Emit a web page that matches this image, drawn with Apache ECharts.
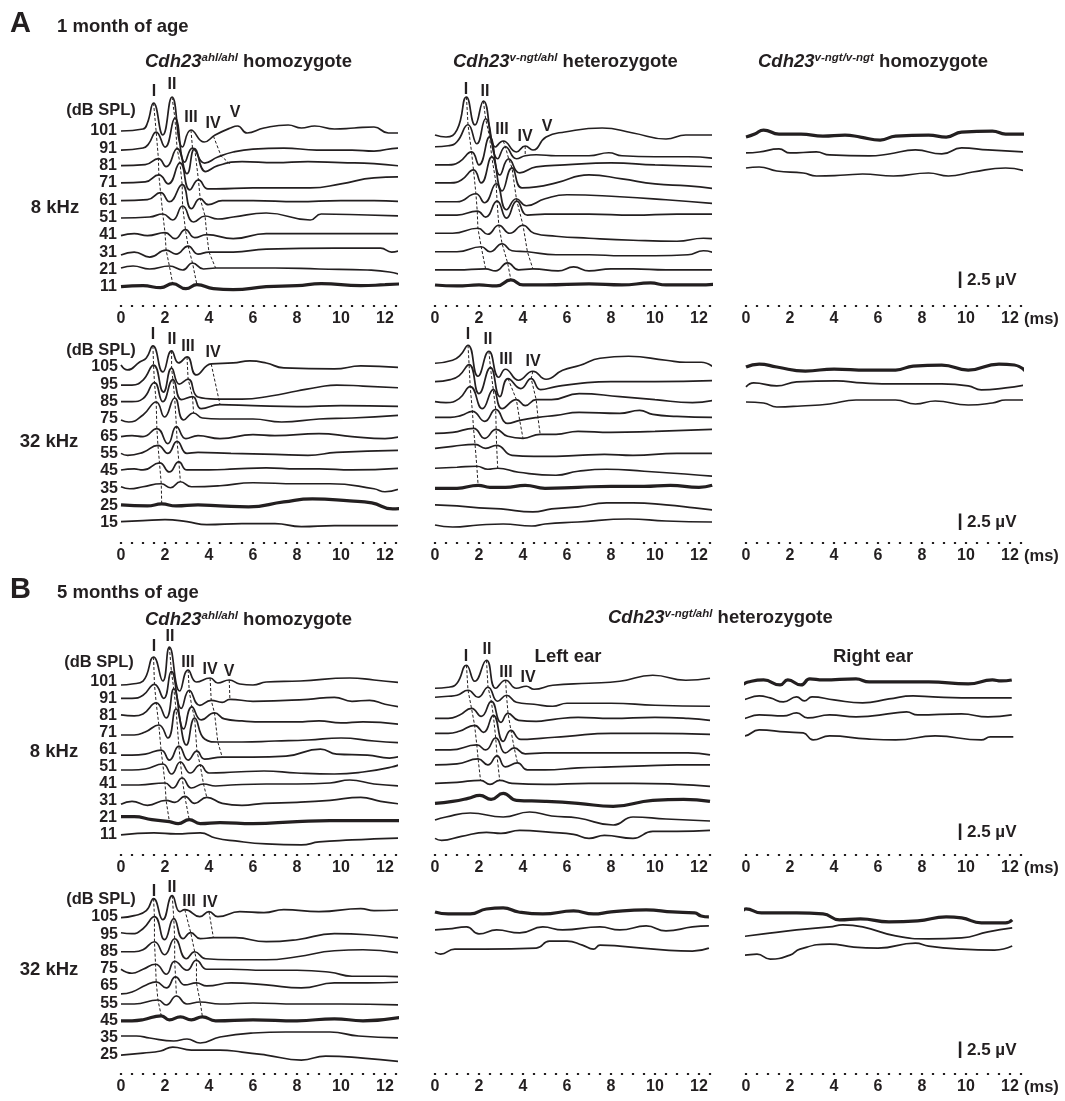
<!DOCTYPE html>
<html>
<head>
<meta charset="utf-8">
<script src="https://cdn.jsdelivr.net/npm/echarts@6/dist/echarts.min.js"></script>
<style>
  html, body { margin: 0; background: #fff; }
  #chart { width: 1065px; height: 1101px; }
</style>
</head>
<body>
<div id="chart"></div>
<script>
// stimulus levels (dB SPL) and time axis labels (ms)
const db8 = [101, 91, 81, 71, 61, 51, 41, 31, 21, 11]
const db32 = [105, 95, 85, 75, 65, 55, 45, 35, 25, 15]
const db32old = [105, 95, 85, 75, 65, 55, 45, 35, 25]
const tickLabels = [0, 2, 4, 6, 8, 10, 12]
const scaleUv = 2.5
const unitsPerUv = 6.6 // amplitude units below are ~0.15 uV

// ABR traces: flat lists of [time ms, amplitude] pairs, top level first
const a1Hom = [
  [0,0, 1,2, 1.2,8, 1.48,28, 1.9,-4, 2.32,34, 2.8,-16, 3.18,1, 3.78,-11, 4.28,-4, 4.97,3, 5.3,5, 5.73,-2, 6.5,3, 7.6,6, 8.2,3, 8.8,5, 9.7,2, 10.6,3, 11.5,4, 12.15,-2, 12.9,-2],
  [0,0, 1,2, 1.25,6, 1.6,18, 2.0,3, 2.45,32, 2.9,-12, 3.25,2, 3.8,-13, 4.4,-7, 5.1,-2, 6,1, 7.4,2, 8.9,0, 10.5,0, 11.5,-1, 12.6,2, 12.9,0],
  [0,0, 1.1,1, 1.7,7, 2.05,-1, 2.55,17, 3.0,-8, 3.35,17, 3.85,-6, 4.4,0, 5.5,4, 7,3, 8.5,4, 10,3, 11.5,2, 12.9,-1],
  [0,0, 1.1,1, 1.72,8, 2.15,-1, 2.68,20, 3.13,-7, 3.52,3, 3.95,-6, 4.3,-6, 6,-5, 8.6,-5, 10,-1, 11.5,5, 12.9,6],
  [0,0, 1.2,1, 1.8,8, 2.2,-1, 2.78,16, 3.2,-8, 3.6,2, 3.97,-4, 4.6,0, 6,0, 8,-1, 10,0, 11.5,0, 12.9,-1],
  [0,0, 1.3,1, 1.9,4, 2.35,-2, 2.8,12, 3.3,-4, 3.82,2, 4.4,-1, 5.1,1, 6.6,5, 8.6,-2, 9.1,4, 11.2,3, 12.9,2],
  [0,0, 0.6,2, 1.2,0, 2.0,3, 2.45,-3, 2.93,6, 3.35,-2, 3.9,1, 5.1,-3, 6.6,2, 9.7,2, 11.5,2, 12.9,2],
  [0,0, 0.6,3, 1.3,-2, 2.05,5, 2.5,1, 3.05,9, 3.5,1, 4.0,3, 5.1,3, 6.6,6, 9.7,7, 11.8,7, 12.3,3, 12.9,7],
  [0,0, 0.55,2, 1.3,-1, 2.2,2, 2.8,-2, 3.25,5, 3.75,-1, 4.3,0, 5,0, 7,0, 9,-1, 11.2,-2, 12.2,-4, 12.9,-8],
  [0,0, 1,1, 1.8,-1, 2.35,3, 2.95,-2, 3.45,2, 4.2,-2, 5.1,-3, 6.6,0, 8,1, 9.1,3, 10.9,1, 12,2, 12.9,3]
]
const a1Het = [
  [0,0, 0.5,-2, 1.0,5, 1.43,38, 1.82,10, 2.2,34, 2.75,-12, 3.1,-6, 3.7,-17, 4.1,-11, 4.45,-15, 5.05,-2, 5.9,3, 7.6,7, 9.0,2, 10.5,-4, 11.4,0, 12.8,0],
  [0,0, 0.6,1, 1.0,5, 1.5,22, 1.9,3, 2.3,28, 2.85,-12, 3.2,0, 3.7,-12, 4.1,-9, 4.6,-8, 5.5,-9, 7.0,-9, 7.9,-6, 8.5,-9, 10,-10, 11.5,-10, 12.8,-12],
  [0,0, 0.6,0, 1.1,3, 1.66,13, 2.0,0, 2.48,28, 2.95,-10, 3.35,6, 3.85,-8, 4.6,-2, 5.9,0, 8,2, 10,0, 12.8,-2],
  [0,0, 0.7,0, 1.2,3, 1.75,13, 2.1,0, 2.58,26, 3.05,-8, 3.5,15, 3.95,-5, 4.6,-4, 5.5,0, 7,8, 8.5,4, 10,-1, 11.5,-3, 12.8,-6],
  [0,0, 1.0,0, 1.86,8, 2.25,-1, 2.78,18, 3.25,-8, 3.7,3, 4.15,-4, 5,3, 6,7, 8.4,5, 10.5,2, 12.8,-2],
  [0,0, 1.0,0, 1.92,4, 2.3,-2, 2.82,14, 3.25,-3, 3.72,14, 4.2,0, 5,1, 7,1, 9,0, 11,1, 12.8,1],
  [0,0, 0.8,0, 1.95,5, 2.4,-1, 2.9,8, 3.4,0, 4.0,8, 4.5,0, 5.5,-3, 7,-5, 9,-7, 11,-8, 12.2,-5, 12.8,-6],
  [0,0, 1,0, 2.1,5, 2.5,0, 3.05,8, 3.5,1, 4.2,0, 5.5,-3, 7,-3, 8.5,-4, 10,-4, 11.5,-3, 12.2,1, 12.8,-2],
  [0,0, 1,0, 2.3,1, 2.75,-1, 3.3,7, 3.8,0, 4.45,1, 5.6,-1, 6.3,3, 7,-1, 8,1, 9,1, 10.5,0, 12.8,0],
  [0,0, 1,-1, 2,0, 2.8,-1, 3.45,5, 4,0, 5,0, 7,1, 8.5,0, 9.8,2, 10.5,0, 12,0, 12.8,1]
]
const a1Mut = [
  [0,0, 0.4,3, 0.8,7, 1.5,3, 2.5,3, 3.5,1, 4.5,2, 5.2,0, 6.1,-3, 6.8,1, 8.3,2, 9.1,0, 9.8,5, 11.2,6, 11.8,3, 12.7,3],
  [0,0, 0.6,1, 1.5,4, 2.0,0, 3.2,1, 3.8,-2, 5.6,-3, 6.5,-1, 7.7,3, 8.9,-1, 9.8,5, 11,3, 12.7,1],
  [0,0, 0.6,1, 1.4,-3, 2.6,-5, 3.2,-8, 4.5,-7, 5.3,-6, 6.7,-8, 8.3,-5, 9.2,-8, 10.3,-4, 11.8,0, 12.7,-3]
]
const a2Hom = [
  [0,0, 0.3,-5, 0.85,3, 1.15,7, 1.45,19, 1.9,-7, 2.3,14, 2.62,2, 3.0,8, 3.43,-10, 4.1,1, 5.1,2, 5.85,4, 6.6,2, 7.4,-3, 9.7,-4, 10.9,-1, 12.85,-3],
  [0,0, 0.5,0, 1.0,5, 1.48,20, 1.93,-7, 2.3,17, 2.65,1, 3.05,6, 3.5,-12, 4.3,-14, 5.5,-14, 6.8,-11, 8,-6, 9,-2, 9.8,0, 11,-1, 12.85,-3],
  [0,0, 0.5,0, 1.0,3, 1.52,19, 1.9,0, 2.36,22, 2.75,2, 3.25,5, 3.65,-7, 4.5,-3, 6,-4, 8,-5, 10,-4, 12.85,-5],
  [0,0, 0.35,-2, 1.0,5, 1.6,18, 1.98,3, 2.44,22, 2.85,0, 3.3,7, 3.7,2, 4.5,1, 6,1, 7.3,-2, 9,1, 10.5,2, 12.85,5],
  [0,0, 0.5,1, 1.0,0, 1.63,8, 2.13,-7, 2.52,10, 2.95,-2, 3.5,1, 4.5,-2, 6,2, 7,1, 9,3, 10.5,0, 12,-2, 12.85,1],
  [0,0, 0.3,-2, 1.0,1, 1.68,8, 2.13,0, 2.55,12, 3.0,0, 3.5,1, 5,0, 7,-1, 8.5,-2, 9.8,1, 12.85,3],
  [0,0, 0.6,1, 1.0,0, 1.75,7, 2.2,-2, 2.63,8, 3.0,0, 4,0, 5.2,1, 6.6,2, 8,1, 9,1, 10.5,0, 12.85,2],
  [0,0, 0.4,-2, 1.0,0, 1.83,3, 2.25,-1, 2.7,5, 3.2,0, 4.5,1, 6,4, 8,3, 9.5,3, 11.5,-2, 12,-5, 12.85,0],
  [0,0, 1.2,-1, 1.85,1, 2.5,-1, 3.5,0, 4.5,-1, 5.8,-2, 7.4,3, 8.7,6, 10.4,4, 11.4,2, 12.35,-4, 12.85,-3],
  [0,0, 1.0,1, 2.0,2, 3.0,0, 3.9,-3, 5.5,-2, 7,-2, 8.2,-5, 9.7,-4, 11,-4, 12.4,-4, 12.85,-3]
]
const a2Het = [
  [0,0, 0.8,3, 1.15,8, 1.5,18, 1.95,-13, 2.45,12, 2.9,-14, 3.2,-6, 3.8,-17, 4.45,-8, 5.05,-16, 5.8,-7, 6.6,-2, 7.5,5, 8.8,7, 10.5,3, 11.4,1, 12.1,1, 12.6,-3],
  [0,0, 0.7,2, 1.1,6, 1.55,17, 2.0,-12, 2.52,14, 2.95,-15, 3.32,3, 3.9,-7, 4.37,3, 4.8,-8, 5.5,-5, 6.5,-2, 8,0, 10,0, 12.6,1],
  [0,0, 0.5,-1, 1.1,3, 1.6,15, 2.15,-7, 2.65,12, 3.05,-7, 3.7,2, 4.1,-4, 4.6,2, 5.3,2, 6.55,8, 8.4,5, 10,2, 11.7,-1, 12.6,1],
  [0,0, 0.7,0, 1.2,2, 1.7,6, 2.26,-4, 2.76,8, 3.3,-6, 3.85,-3, 4.68,0, 5.5,2, 6.55,5, 8.4,4, 9.3,7, 9.9,3, 11,1, 12.6,0],
  [0,0, 0.8,1, 1.75,5, 2.26,-5, 2.78,4, 3.3,-3, 4.0,-5, 4.78,-1, 5.5,-1, 6.5,2, 8,1, 10,2, 12.6,4],
  [0,0, 0.8,2, 1.82,4, 2.3,0, 2.8,3, 3.5,-7, 4.5,-8, 5.5,-8, 6.5,-7, 7.7,-6, 9,-7, 11,-5, 12.6,-5],
  [0,0, 1,1, 1.9,2, 2.4,-1, 2.85,0, 3.8,-4, 5.5,-7, 6.5,-3, 7.8,-1, 9.5,-3, 11.5,-6, 12.6,-8],
  [0,0, 1,0, 1.96,3, 2.5,1, 3.2,1, 4.1,3, 5,0, 6.5,1, 8,2, 9.5,2, 10.7,3, 12,1, 12.6,3],
  [0,0, 1,-1, 2,-3, 3,-4, 4.45,-7, 5.3,-4, 6.5,-2, 7.8,2, 9,2, 10.5,0, 11.8,-3, 12.6,-5],
  [0,0, 0.8,-2, 2,0, 3.1,1, 4.4,-1, 5,1, 6.5,3, 8.8,6, 10.5,4, 12.6,3]
]
const a2Mut = [
  [0,0, 0.6,3, 1.4,0, 2.7,-4, 4,-2, 5.5,-3, 6.8,-3, 7.6,1, 8.9,2, 10.1,-3, 11.5,3, 12.2,2, 12.7,-4],
  [0,0, 0.35,4, 1.4,1, 2.3,5, 4.1,6, 5.3,4, 6.8,3, 8.9,3, 10.1,1, 10.7,-3, 11.8,-1, 12.7,2],
  [0,0, 0.8,-1, 1.4,-5, 2.5,-4, 3.8,-2, 5,2, 6.8,2, 7.7,-2, 8.6,1, 10.1,-3, 11.2,-1, 11.8,2, 12.7,2]
]
const b1Hom = [
  [0,0, 0.5,1, 1.0,4, 1.48,28, 1.9,4, 2.2,38, 2.67,-6, 3.05,15, 3.43,3, 4.05,7, 4.4,2, 4.92,5, 5.4,1, 6.0,0, 6.6,3, 8.15,4, 10.4,7, 11.5,5, 12.85,2],
  [0,0, 0.5,0, 1.0,3, 1.52,14, 1.94,0, 2.29,27, 2.74,-10, 3.1,8, 3.58,-7, 4.1,-2, 4.6,-4, 4.95,-1, 6.0,-3, 7.5,-2, 8.5,-1, 9.7,1, 10.5,-3, 11.3,-2, 12.0,-6, 12.85,-9],
  [0,0, 0.6,-1, 1.0,1, 1.6,12, 2.05,-3, 2.4,26, 2.85,-14, 3.22,8, 3.65,-5, 4.25,2, 4.7,-4, 5.5,-6, 6.5,-7, 8,-7, 9,-6, 10,-8, 11,-7, 12.85,-10],
  [0,0, 0.6,0, 1.1,3, 1.72,10, 2.13,-3, 2.5,26, 2.97,-10, 3.35,17, 3.8,-4, 4.4,-7, 5.5,-7, 7,-6, 8.5,-5, 10,-3, 11.5,-6, 12.85,-8],
  [0,0, 0.5,0, 1.1,1, 1.82,5, 2.2,-5, 2.63,9, 3.05,-5, 3.45,4, 3.8,-4, 4.6,-2, 6,-2, 7.5,-1, 9.07,6, 9.8,1, 11.2,0, 12.2,-3, 12.85,0],
  [0,0, 0.5,0, 1.1,1, 1.9,6, 2.3,-4, 2.7,8, 3.15,-3, 3.6,5, 4,-3, 5.2,-2, 6.5,-1, 8,-3, 9.7,-4, 11,-2, 12.3,3, 12.85,7],
  [0,0, 0.8,0, 2.0,2, 2.35,-3, 2.78,7, 3.2,-3, 3.75,1, 4.3,-1, 5,0, 6.6,1, 8,1, 9.5,2, 10.4,5, 11.5,1, 12.85,-1],
  [0,0, 0.5,3, 1.2,-1, 2.05,4, 2.45,2, 2.9,8, 3.35,1, 3.9,7, 4.6,1, 5.5,-1, 6.5,1, 8,2, 9.5,4, 10.9,7, 11.8,3, 12.85,0],
  [0,0, 0.6,0, 1.4,-3, 2.2,-5, 2.6,-7, 3.1,-3, 3.6,-7, 4.5,-6, 6,-7, 8,-5, 9.5,-4, 11,-4, 12.85,-4],
  [0,0, 1.5,2, 2.5,1, 3.6,2, 4.3,-3, 5.2,-6, 6.6,-9, 8.2,-10, 9.0,-7, 10.5,-5, 11.5,-4, 12.85,-3]
]
const b1Left = [
  [0,0, 0.6,1, 1.0,5, 1.43,23, 1.81,7, 2.34,28, 2.76,0, 3.21,8, 3.7,0, 4.15,2, 4.5,-1, 5.35,3, 7,5, 8.4,7, 9.9,13, 11.4,8, 12.5,10],
  [0,0, 0.6,1, 1.0,2, 1.5,7, 1.96,0, 2.41,10, 2.85,-4, 3.25,2, 3.7,-5, 4.5,-7, 5.35,-9, 6,-6, 8,-6, 10,-8, 12.5,-9],
  [0,0, 0.6,0, 1.1,3, 1.66,10, 2.1,2, 2.56,17, 3.0,-4, 3.32,5, 3.8,-2, 4.6,-3, 5.4,-1, 6.5,1, 8,0, 10,1, 11.5,0, 12.5,-2],
  [0,0, 0.6,0, 1.1,2, 1.8,8, 2.2,1, 2.65,18, 3.1,-8, 3.45,3, 3.9,-6, 4.8,-5, 6,-3, 8,0, 10,0, 12.5,-1],
  [0,0, 0.7,0, 1.9,5, 2.3,0, 2.76,12, 3.2,-3, 3.6,2, 4.1,-4, 5,-3, 6.5,-3, 8,-3, 10,-3, 11.5,-3, 12.5,-5],
  [0,0, 1,1, 1.96,6, 2.4,0, 2.82,9, 3.2,-2, 3.75,2, 4.2,-5, 5,-5, 6.5,-3, 8,-2, 9.5,-1, 11,0, 12.5,0],
  [0,0, 1,1, 2.07,3, 2.5,-1, 2.94,3, 3.5,0, 5,-1, 7,0, 9,0, 11,-1, 12.5,-3],
  [0,0, 0.8,2, 1.5,5, 2.04,8, 2.55,4, 3.1,10, 3.7,3, 5,2, 6.5,0, 8.1,-3, 9.9,3, 11.3,4, 12.5,2],
  [0,0, 0.5,3, 1.6,7, 3.1,3, 4.3,8, 5.3,4, 6.5,2, 8.1,-5, 9.0,3, 10.5,1, 12.5,-1],
  [0,0, 0.3,-2, 1.2,2, 2.34,6, 3.0,5, 3.85,8, 5.3,6, 6.3,4, 7.0,0, 7.7,3, 9.0,0, 9.9,7, 11,7, 12.5,8]
]
const b1Right = [
  [-0.57,0, -0.27,-3, 0.1,0, 0.8,2, 1.55,-3, 1.9,2, 2.5,-3, 2.9,3, 3.5,2, 5.0,3, 5.6,0, 7,0, 8.3,0, 10.1,-2, 11.2,2, 11.6,1, 12.08,2],
  [-0.57,0, -0.3,-3, 0.6,1, 1.1,-1, 1.7,-5, 2.3,0, 2.65,-4, 3.0,0, 4,-3, 5.3,-6, 6.5,-2, 7.6,1, 8.5,0, 9.8,-1, 11,-1, 12.08,-1],
  [-0.57,0, -0.3,-3, 0.6,1, 1.7,0, 2.3,3, 2.8,-2, 3.8,1, 5.0,-1, 6.8,3, 7.3,4, 7.8,1, 9.8,2, 11,-1, 12.08,1],
  [-0.42,0, -0.1,-3, 0.6,3, 1.8,1, 2.6,0, 3.05,-7, 3.8,-3, 5.5,-6, 6.8,-7, 8.6,-3, 10.7,-7, 11.1,-4, 12.15,-4]
]
const b2Hom = [
  [0,0, 0.6,2, 1.15,7, 1.48,19, 1.9,-2, 2.33,22, 2.67,6, 2.9,8, 3.58,1, 4.0,6, 4.4,1, 5.4,6, 6.5,5, 7.4,8, 9.0,6, 10.9,9, 11.5,7, 12.85,8],
  [0,0, 0.5,-1, 1.0,4, 1.52,16, 1.98,-7, 2.4,14, 2.82,-6, 3.17,0, 3.6,-6, 4.2,-5, 5.2,-5, 6.6,-9, 8.0,-7, 9.7,-1, 11.2,-2, 12.85,-6],
  [0,0, 0.6,0, 1.0,2, 1.52,10, 1.98,-3, 2.44,13, 2.97,-7, 3.35,0, 3.85,-7, 5,-8, 6.6,-8, 8,-5, 9.7,1, 11,2, 12.85,-2],
  [0,0, 0.5,-4, 1.0,0, 1.57,5, 2.06,-5, 2.44,8, 3.0,-1, 3.43,9, 3.9,0, 5,0, 6.5,-1, 8,-1, 9.5,-3, 10.5,-7, 12,-7, 12.85,-8],
  [0,0, 0.5,2, 1.15,9, 1.6,12, 2.06,6, 2.48,17, 2.9,9, 3.43,11, 3.9,8, 5,11, 6.6,9, 8.2,6, 9.7,11, 11.2,11, 12.85,12],
  [0,0, 0.6,0, 1.68,4, 2.06,-1, 2.52,8, 3.0,0, 3.6,2, 4.5,0, 6,1, 8,0, 10,0, 12.85,-1],
  [0,0, 0.5,0, 1.0,1, 1.83,5, 2.2,1, 2.7,4, 3.2,1, 3.7,4, 4.3,0, 6,1, 8,0, 9.7,2, 11,0, 12.85,4],
  [0,0, 0.7,0, 1.3,-2, 2.4,-5, 3.0,-3, 3.6,-7, 4.5,-1, 6.0,3, 7.5,4, 9.5,4, 10.8,0, 12.85,-2],
  [0,0, 1.0,2, 1.8,4, 2.35,8, 3.2,5, 4.5,5, 5.5,3, 6.6,0, 8.2,-5, 9.3,-1, 11,-3, 12.85,-7]
]
const b2Left = [
  [0,0, 0.6,-2, 1.6,-2, 2.34,3, 3.1,4, 3.8,0, 4.9,-2, 6.3,1, 7.2,-2, 8,0, 9.6,2, 10.8,0, 11.8,-1, 12.1,-4, 12.45,-5],
  [0,0, 0.6,1, 1.43,3, 2.0,-4, 2.8,0, 3.85,-3, 4.9,3, 5.8,0, 7.5,3, 8.4,0, 9.6,4, 10.5,-1, 11.7,3, 12.45,4],
  [0,0, 0.25,-2, 0.9,3, 2.3,3, 4.6,4, 5.2,11, 6.0,11, 6.7,7, 7.2,3, 7.5,7, 8.4,6, 10.5,2, 11.7,1, 12.45,4]
]
const b2Right = [
  [-0.65,0, -0.3,-2, 0.0,2, 0.7,-2, 2.3,-2, 3.5,-3, 4.25,-9, 5.2,-8, 6.5,-11, 7.8,-10, 9.1,-6, 9.8,-7, 10.7,-12, 11.8,-12, 12.1,-9],
  [-0.65,0, 0.8,4, 2.3,8, 3.8,11, 4.4,13, 5.3,11, 6.8,2, 8.3,-1, 9.8,0, 11.0,6, 12.1,10],
  [-0.65,0, -0.1,-3, 0.5,-2, 1.1,-7, 2.0,-3, 2.45,3, 3.8,8, 4.9,5, 6,4, 7.7,9, 8.3,6, 9.8,3, 11.3,2, 12.1,6]
]

// wave latencies (ms) per level, used for the dashed guide lines
const a1HomLat = [
  [1.48, 1.6, 1.7, 1.72, 1.8, 1.9, 2.0, 2.05, 2.2, 2.35],
  [2.32, 2.45, 2.55, 2.68, 2.78, 2.8, 2.93, 3.05, 3.25, 3.45],
  [3.18, 3.25, 3.35, 3.52, 3.6, 3.82, 3.9, 4.0, 4.3],
  [4.2, 4.55, 4.94]
]
const a1HetLat = [
  [1.43, 1.5, 1.66, 1.75, 1.86, 1.92, 1.95, 2.1, 2.3],
  [2.2, 2.3, 2.48, 2.58, 2.78, 2.82, 2.9, 3.05, 3.3, 3.45],
  [3.1, 3.2, 3.35, 3.5, 3.7, 3.72, 4.0, 4.2, 4.45],
  [4.1, 4.1]
]
const a2HomLat = [
  [1.45, 1.48, 1.52, 1.6, 1.63, 1.68, 1.75, 1.83, 1.85],
  [2.3, 2.3, 2.36, 2.44, 2.52, 2.55, 2.63, 2.7],
  [3.0, 3.05, 3.25, 3.3],
  [4.1, null, 4.5]
]
const a2HetLat = [
  [1.5, 1.55, 1.6, 1.7, 1.75, 1.82, 1.9, 1.96],
  [2.45, 2.52, 2.65, 2.76, 2.78, 2.8, 2.85],
  [null, 3.32, 3.7, 3.85, 4.0],
  [4.45, 4.37, 4.6, 4.68, 4.78]
]
const b1HomLat = [
  [1.48, 1.52, 1.6, 1.72, 1.82, 1.9, 2.0, 2.05, 2.2],
  [2.2, 2.29, 2.4, 2.5, 2.63, 2.7, 2.78, 2.9, 3.1],
  [3.05, 3.1, 3.22, 3.35, 3.45, 3.6, 3.75, 3.9],
  [4.05, 4.1, 4.25, 4.4, 4.6],
  [4.92, 4.95]
]
const b1LeftLat = [
  [1.43, 1.5, 1.66, 1.8, 1.9, 1.96, 2.07],
  [2.34, 2.41, 2.56, 2.65, 2.76, 2.82, 2.94],
  [3.21, 3.25, 3.32, 3.45, 3.6, 3.75]
]
const b2HomLat = [
  [1.48, 1.52, 1.52, 1.57, 1.6, 1.68, 1.83],
  [2.33, 2.4, 2.44, 2.44, 2.48, 2.52],
  [2.9, 3.17, 3.35, 3.43, 3.43, 3.6, 3.7],
  [4.0, 4.2]
]

// ---- layout ----
const INK = '#231f20'
const FONT = '"Liberation Sans", Arial, Helvetica, sans-serif'
const MS = 22
const cols = [121, 435, 746]
const rows = {
  a1: { base: 131, gap: 17.3, dot: 305, bar: 17 },
  a2: { base: 366, gap: 17.3, dot: 542, bar: 12 },
  b1: { base: 684, gap: 17, dot: 854, bar: 14 },
  b2: { base: 917.5, gap: 17.3, dot: 1073, bar: 15 },
}
const panels = [
  { row: 'a1', col: 0, traces: a1Hom, thick: 9, lat: a1HomLat, levels: [0, 1.1, 2, 3, 4.03, 5.03, 6.05, 7.17, 7.92, 9] },
  { row: 'a1', col: 1, traces: a1Het, thick: 9, lat: a1HetLat, levels: [0.23, 0.91, 1.96, 3, 4.09, 4.86, 5.91, 6.98, 8.03, 8.9] },
  { row: 'a1', col: 2, traces: a1Mut, thick: 0, bar: true, levels: [0.35, 1.27, 2.14] },
  { row: 'a2', col: 0, traces: a2Hom, thick: 8, lat: a2HomLat, levels: [-0.06, 1.1, 2.06, 3.12, 4.08, 5.05, 6.01, 6.98, 8.03, 9] },
  { row: 'a2', col: 1, traces: a2Het, thick: 7, lat: a2HetLat, levels: [-0.16, 0.9, 2.06, 2.97, 3.89, 4.76, 5.91, 7.07, 8.03, 9.19] },
  { row: 'a2', col: 2, traces: a2Mut, thick: 0, bar: true, levels: [0.06, 1.21, 2.08] },
  { row: 'b1', col: 0, traces: b1Hom, thick: 8, lat: b1HomLat, levels: [0.06, 0.84, 1.82, 3, 4.18, 5.06, 5.94, 7.08, 7.8, 8.88] },
  { row: 'b1', col: 1, traces: b1Left, thick: 7, lat: b1LeftLat, levels: [0.25, 0.78, 2.02, 2.9, 3.88, 4.76, 5.84, 7.02, 8, 9.08] },
  { row: 'b1', col: 2, traces: b1Right, thick: 0, bar: true, levels: [-0.12, 0.76, 1.88, 2.88] },
  { row: 'b2', col: 0, traces: b2Hom, thick: 6, lat: b2HomLat, levels: [0.01, 0.88, 1.98, 2.99, 4.42, 5, 5.97, 6.85, 7.95] },
  { row: 'b2', col: 1, traces: b2Left, thick: 0, levels: [-0.32, 0.72, 2] },
  { row: 'b2', col: 2, traces: b2Right, thick: 0, bar: true, levels: [-0.38, 1.18, 2] },
]

function pairs(f) {
  const out = []
  for (let i = 0; i < f.length; i += 2) out.push([f[i], f[i + 1]])
  return out
}
// amplitude of a trace at time t (linear between samples)
function ampAt(f, t) {
  for (let i = 0; i < f.length - 2; i += 2) {
    if (t >= f[i] && t <= f[i + 2]) {
      const r = (t - f[i]) / (f[i + 2] - f[i])
      return f[i + 1] + r * (f[i + 3] - f[i + 1])
    }
  }
  return 0
}

const grids = [], xAxes = [], yAxes = [], series = []
panels.forEach((p, k) => {
  const r = rows[p.row]
  const top = r.base - 50
  const h = r.dot - top
  grids.push({ left: cols[p.col], top, width: 12.5 * MS, height: h, outerBoundsMode: 'none' })
  xAxes.push({
    gridIndex: k, type: 'value', min: 0, max: 12.5, interval: 0.5,
    axisLine: { show: false },
    axisTick: { show: true, length: 2, lineStyle: { color: INK, width: 2.2 } },
    splitLine: { show: false },
    axisLabel: {
      formatter: (v) => (tickLabels.includes(v) ? String(v) : ''),
      color: INK, fontSize: 16, fontWeight: 'bold', fontFamily: FONT, margin: 6,
    },
  })
  yAxes.push({ gridIndex: k, type: 'value', min: 0, max: h, show: false })
  const baseVal = (i) => r.dot - (r.base + r.gap * p.levels[i])

  p.traces.forEach((tr, i) => {
    series.push({
      type: 'line', xAxisIndex: k, yAxisIndex: k,
      data: pairs(tr).map(([t, v]) => [t, baseVal(i) + v]),
      smooth: 0.5, symbol: 'none', clip: false, silent: true, z: 3,
      lineStyle: { color: INK, width: i === p.thick ? 3.2 : 1.7 },
    })
  })
  ;(p.lat || []).forEach((lat) => {
    const pts = []
    lat.forEach((t, i) => {
      if (t == null) return
      pts.push([t, baseVal(i) + ampAt(p.traces[i], t)])
    })
    series.push({
      type: 'line', xAxisIndex: k, yAxisIndex: k, data: pts,
      symbol: 'none', clip: false, silent: true, z: 2,
      lineStyle: { color: INK, width: 1, type: [3, 2] },
    })
  })
  if (p.bar) {
    series.push({
      type: 'line', xAxisIndex: k, yAxisIndex: k,
      data: [[9.73, r.bar], [9.73, r.bar + scaleUv * unitsPerUv]],
      symbol: 'none', clip: false, silent: true,
      lineStyle: { color: INK, width: 2.5, cap: 'butt' },
    })
  }
})

// ---- texts ----
function txt(x, y, text, size, align) {
  return {
    type: 'text', x, y, silent: true,
    style: { text, fill: INK, fontSize: size, fontWeight: 'bold', fontFamily: FONT, align: align || 'center', verticalAlign: 'middle' },
  }
}
function gene(x, y, sup, rest) {
  const base = { fontWeight: 'bold', fontFamily: FONT, fill: INK }
  return {
    type: 'text', x, y, silent: true,
    style: {
      text: '{i|Cdh23}{s|' + sup + '}{n| ' + rest + '}',
      align: 'left', verticalAlign: 'middle',
      rich: {
        i: { ...base, fontSize: 18.5, fontStyle: 'italic', lineHeight: 20 },
        s: { ...base, fontSize: 11.5, fontStyle: 'italic', lineHeight: 12, verticalAlign: 'top' },
        n: { ...base, fontSize: 18.5, lineHeight: 20 },
      },
    },
  }
}

const graphic = [
  txt(10, 24, 'A', 29, 'left'),
  txt(57, 27, '1 month of age', 18.5, 'left'),
  txt(10, 590, 'B', 29, 'left'),
  txt(57, 593, '5 months of age', 18.5, 'left'),
  gene(145, 62, 'ahl/ahl', 'homozygote'),
  gene(453, 62, 'v-ngt/ahl', 'heterozygote'),
  gene(758, 62, 'v-ngt/v-ngt', 'homozygote'),
  gene(145, 620, 'ahl/ahl', 'homozygote'),
  gene(608, 618, 'v-ngt/ahl', 'heterozygote'),
  txt(101, 110, '(dB SPL)', 16.5),
  txt(101, 350, '(dB SPL)', 16.5),
  txt(99, 662, '(dB SPL)', 16.5),
  txt(101, 899, '(dB SPL)', 16.5),
  txt(55, 208, '8 kHz', 18.5),
  txt(49, 442, '32 kHz', 18.5),
  txt(54, 752, '8 kHz', 18.5),
  txt(49, 970, '32 kHz', 18.5),
  txt(568, 657, 'Left ear', 18.5),
  txt(873, 657, 'Right ear', 18.5),
]
db8.forEach((d, i) => graphic.push(txt(117, 131 + 17.3 * i, String(d), 16, 'right')))
db32.forEach((d, i) => graphic.push(txt(118, 367 + 17.3 * i, String(d), 16, 'right')))
db8.forEach((d, i) => graphic.push(txt(117, 682 + 17 * i, String(d), 16, 'right')))
db32old.forEach((d, i) => graphic.push(txt(118, 917 + 17.25 * i, String(d), 16, 'right')))

const peakTags = [
  ['I', 154, 92], ['II', 172, 85], ['III', 191, 118], ['IV', 213, 124], ['V', 235, 113],
  ['I', 466, 90], ['II', 485, 92], ['III', 502, 130], ['IV', 525, 137], ['V', 547, 127],
  ['I', 153, 335], ['II', 172, 340], ['III', 188, 347], ['IV', 213, 353],
  ['I', 468, 335], ['II', 488, 340], ['III', 506, 360], ['IV', 533, 362],
  ['I', 154, 647], ['II', 170, 637], ['III', 188, 663], ['IV', 210, 670], ['V', 229, 672],
  ['I', 466, 657], ['II', 487, 650], ['III', 506, 673], ['IV', 528, 678],
  ['I', 154, 892], ['II', 172, 888], ['III', 189, 902], ['IV', 210, 903],
]
peakTags.forEach(([s, x, y]) => graphic.push(txt(x, y, s, 16)))

Object.values(rows).forEach((r) => {
  graphic.push(txt(967, r.dot - r.bar - 8, '2.5 µV', 17, 'left'))
  graphic.push(txt(1024, r.dot + 14, '(ms)', 16.5, 'left'))
})

const chart = echarts.init(document.getElementById('chart'), null, { renderer: 'canvas' })
chart.setOption({
  animation: false,
  backgroundColor: '#fff',
  grid: grids,
  xAxis: xAxes,
  yAxis: yAxes,
  series,
  graphic,
})
</script>
</body>
</html>
